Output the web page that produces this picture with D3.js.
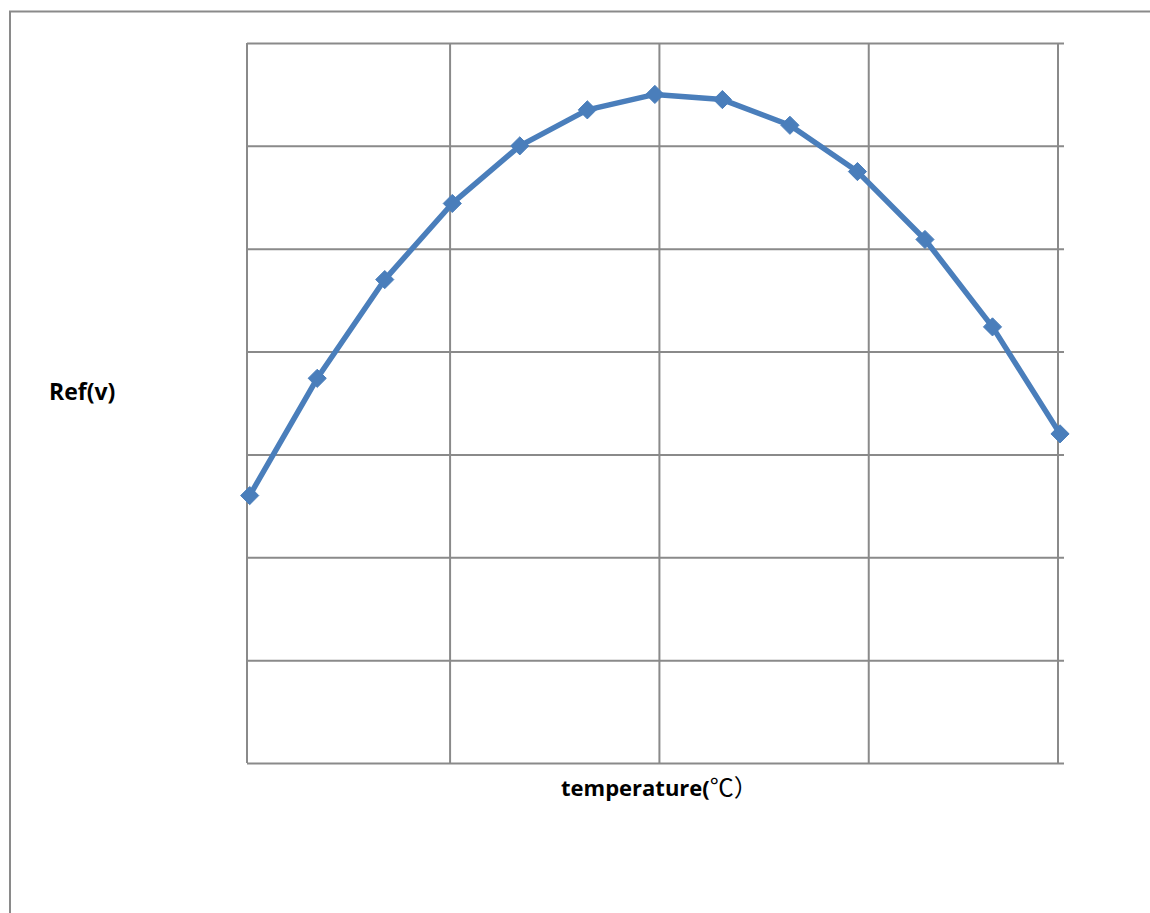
<!DOCTYPE html>
<html>
<head>
<meta charset="utf-8">
<script src="https://cdn.jsdelivr.net/npm/d3@7/dist/d3.min.js"></script>
<style>
  html, body { margin: 0; padding: 0; background: #fff; }
  svg { display: block; }
</style>
</head>
<body>
<svg id="chart" width="1150" height="913"></svg>
<script>
// ---- data ----
const temperatures = [-40, -30, -20, -10, 0, 10, 20, 30, 40, 50, 60, 70, 80];
const refValues = [2.60, 3.74, 4.70, 5.44, 6.00, 6.35, 6.50, 6.45, 6.20, 5.75, 5.09, 4.24, 3.20];
const yTicks = [0, 1, 2, 3, 4, 5, 6, 7];
const xGridValues = [-10.4, 20.6, 51.6];
const xDomain = [-40.4, 79.7];
const yDomain = [0, 7];
const yLabel = "Ref(v)";
const xLabelMain = "temperature(";
const xLabelUnit = "℃）";

// ---- layout ----
const svg = d3.select("#chart");
const plot = { left: 247, right: 1058, top: 43, bottom: 763 };
const gridColor = "#8a8a8a";
const lineColor = "#4a7ebb";

const x = d3.scaleLinear().domain(xDomain).range([plot.left, plot.right]);
const y = d3.scaleLinear().domain(yDomain).range([plot.bottom, plot.top]);

// outer frame (top and left edges)
svg.append("path")
  .attr("d", `M10,913 L10,11.5 L1150,11.5`)
  .attr("fill", "none")
  .attr("stroke", gridColor)
  .attr("stroke-width", 2);

// horizontal gridlines + right ticks via axis
const yAxis = d3.axisRight(y).tickValues(yTicks).tickSize(-(plot.right - plot.left) - 6).tickFormat("");
const gy = svg.append("g")
  .attr("transform", `translate(${plot.right + 6},0)`)
  .call(yAxis);
gy.select(".domain").remove();
gy.selectAll(".tick line").attr("stroke", gridColor).attr("stroke-width", 2);

// vertical gridlines
const xAxis = d3.axisBottom(x).tickValues(xGridValues).tickSize(-(plot.bottom - plot.top)).tickFormat("");
const gx = svg.append("g")
  .attr("transform", `translate(0,${plot.bottom})`)
  .call(xAxis);
gx.select(".domain").remove();
gx.selectAll(".tick line").attr("stroke", gridColor).attr("stroke-width", 2);

// left and right axis lines
svg.append("line")
  .attr("x1", x(xDomain[0])).attr("x2", x(xDomain[0]))
  .attr("y1", y(yDomain[1])).attr("y2", y(yDomain[0]))
  .attr("stroke", gridColor).attr("stroke-width", 2);
svg.append("line")
  .attr("x1", x(xDomain[1])).attr("x2", x(xDomain[1]))
  .attr("y1", y(yDomain[1])).attr("y2", y(yDomain[0]))
  .attr("stroke", gridColor).attr("stroke-width", 2);

// data line
const pts = temperatures.map((t, i) => [t, refValues[i]]);
svg.append("path")
  .datum(pts)
  .attr("fill", "none")
  .attr("stroke", lineColor)
  .attr("stroke-width", 5.5)
  .attr("stroke-linejoin", "round")
  .attr("d", d3.line().x(d => x(d[0])).y(d => y(d[1])));

// diamond markers
const diamond = d3.symbol().type(d3.symbolDiamond2).size(210);
svg.append("g").selectAll("path")
  .data(pts)
  .join("path")
  .attr("transform", d => `translate(${x(d[0])},${y(d[1])})`)
  .attr("d", diamond)
  .attr("fill", lineColor)
  .attr("stroke", lineColor)
  .attr("stroke-width", 1);

// axis titles
svg.append("text")
  .attr("x", 49).attr("y", 400)
  .attr("font-family", "'Open Sans', sans-serif")
  .attr("font-weight", "bold")
  .attr("font-size", 23)
  .attr("fill", "#000")
  .text(yLabel);

const xt = svg.append("text")
  .attr("x", 561).attr("y", 796)
  .attr("font-family", "'Open Sans', sans-serif")
  .attr("font-size", 22)
  .attr("fill", "#000");
xt.append("tspan").attr("font-weight", "bold").text(xLabelMain);
xt.append("tspan")
  .attr("font-family", "'Noto Sans CJK SC', sans-serif")
  .attr("font-weight", "normal")
  .attr("font-size", 24)
  .text(xLabelUnit);
</script>
</body>
</html>
